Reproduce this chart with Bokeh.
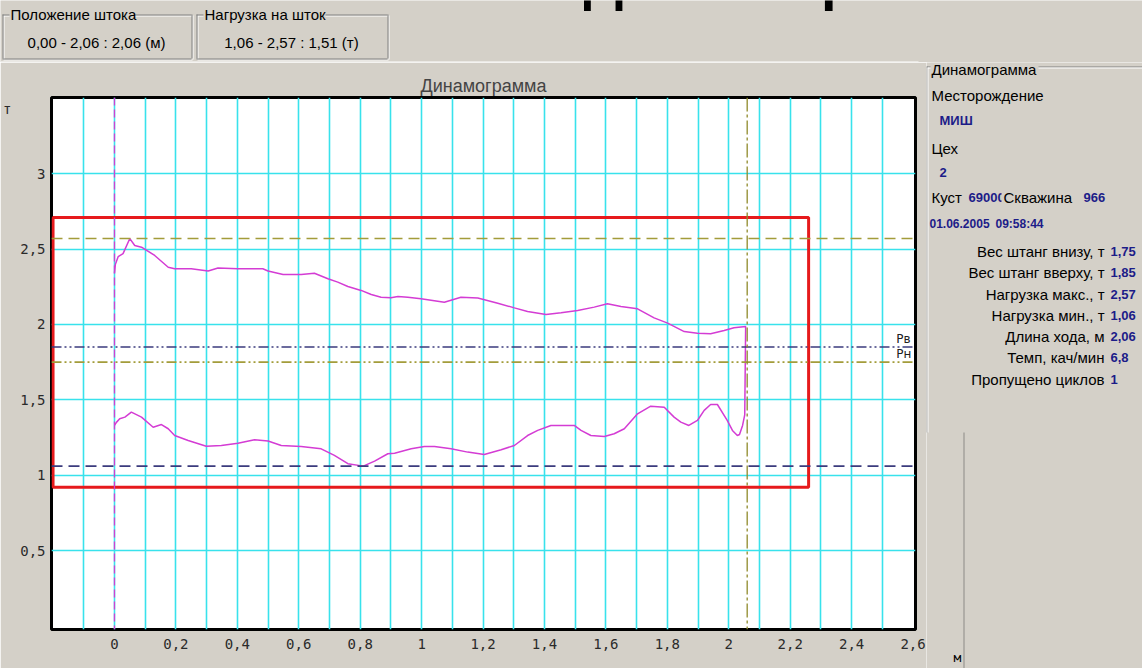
from bokeh.plotting import figure
from bokeh.layouts import column, row
from bokeh.models import Range1d, FixedTicker, Span, Label, LinearAxis
from bokeh.core.properties import value
from bokeh.embed import file_html
from bokeh.resources import INLINE

# ---- dynamogram data -------------------------------------------------------
# upstroke branch (position, m ; load, t)
upper_x = [0.000, 0.003, 0.012, 0.028, 0.050, 0.066, 0.088, 0.131, 0.175, 0.196,
           0.250, 0.305, 0.337, 0.402, 0.483, 0.500, 0.549, 0.608, 0.651, 0.695,
           0.727, 0.760, 0.803, 0.836, 0.868, 0.900, 0.923, 0.955, 0.998, 1.074,
           1.128, 1.183, 1.248, 1.302, 1.345, 1.405, 1.454, 1.508, 1.562, 1.605,
           1.649, 1.703, 1.757, 1.801, 1.855, 1.898, 1.941, 1.985, 2.017, 2.055]
upper_y = [2.34, 2.40, 2.45, 2.47, 2.57, 2.524, 2.513, 2.458, 2.38, 2.37,
           2.37, 2.355, 2.375, 2.37, 2.37, 2.355, 2.332, 2.332, 2.34, 2.303,
           2.281, 2.252, 2.226, 2.199, 2.181, 2.177, 2.186, 2.181, 2.17, 2.148,
           2.181, 2.175, 2.141, 2.11, 2.086, 2.066, 2.078, 2.093, 2.115, 2.137,
           2.119, 2.104, 2.044, 2.009, 1.953, 1.942, 1.938, 1.96, 1.978, 1.987]
# downstroke branch, traced back from the end of stroke to zero
lower_x = [2.055, 2.052, 2.045, 2.035, 2.028, 2.012, 1.995, 1.963, 1.941, 1.920,
           1.898, 1.870, 1.844, 1.822, 1.790, 1.746, 1.703, 1.660, 1.627, 1.595,
           1.551, 1.519, 1.497, 1.454, 1.421, 1.378, 1.345, 1.302, 1.259, 1.204,
           1.150, 1.096, 1.042, 1.009, 0.966, 0.912, 0.890, 0.847, 0.810, 0.760,
           0.716, 0.673, 0.608, 0.543, 0.500, 0.456, 0.402, 0.348, 0.299, 0.240,
           0.196, 0.175, 0.153, 0.126, 0.088, 0.055, 0.034, 0.017, 0.007, 0.000]
lower_y = [1.987, 1.40, 1.33, 1.27, 1.263, 1.297, 1.363, 1.469, 1.469, 1.43,
           1.363, 1.33, 1.352, 1.385, 1.451, 1.458, 1.407, 1.308, 1.275, 1.257,
           1.263, 1.297, 1.33, 1.33, 1.33, 1.297, 1.263, 1.197, 1.169, 1.137,
           1.153, 1.175, 1.19, 1.19, 1.175, 1.146, 1.142, 1.093, 1.06, 1.076,
           1.131, 1.175, 1.19, 1.197, 1.227, 1.235, 1.212, 1.197, 1.192, 1.23,
           1.263, 1.308, 1.336, 1.318, 1.385, 1.418, 1.385, 1.374, 1.352, 1.33]

stroke_min, stroke_max = 0.00, 2.06
load_min, load_max = 1.06, 2.57
rod_weight_down, rod_weight_up = 1.75, 1.85

x_ticks = [0, 0.2, 0.4, 0.6, 0.8, 1, 1.2, 1.4, 1.6, 1.8, 2, 2.2, 2.4, 2.6]
x_tick_labels = ["0", "0,2", "0,4", "0,6", "0,8", "1", "1,2", "1,4", "1,6",
                 "1,8", "2", "2,2", "2,4", "2,6"]
y_ticks = [0.5, 1, 1.5, 2, 2.5, 3]
y_tick_labels = ["0,5", "1", "1,5", "2", "2,5", "3"]

# well card
card_title = "Динамограмма"
field_name = "МИШ"
shop_no = "2"
bush_no = "69000"
well_no = "966"
date_str = "01.06.2005"
time_str = "09:58:44"
param_names = ["Вес штанг внизу, т", "Вес штанг вверху, т", "Нагрузка макс., т",
               "Нагрузка мин., т", "Длина хода, м", "Темп, кач/мин",
               "Пропущено циклов"]
param_values = ["1,75", "1,85", "2,57", "1,06", "2,06", "6,8", "1"]

# ---- page geometry ---------------------------------------------------------
W, H = 1142, 668
TOP_H = 62            # height of the readout strip
MAIN_W = 926          # width of the chart panel
BG = "#d4d0c8"
UI_FONT = "Liberation Sans"
MONO = "DejaVu Sans Mono"
NAVY = "#1c1c88"


def decor(w, h):
    """Pixel-addressed panel (y grows downward) for the window chrome."""
    f = figure(width=w, height=h, output_backend="svg", toolbar_location=None,
               x_range=Range1d(0, w), y_range=Range1d(h, 0),
               x_axis_location=None, y_axis_location=None, min_border=0,
               frame_align=False)
    f.grid.visible = False
    f.outline_line_color = None
    f.background_fill_color = BG
    f.border_fill_color = BG
    return f


def txt(f, x, y, s, size=15, color="black", bold=False, align="left",
        font=UI_FONT, baseline="middle"):
    f.text(x=[x], y=[y], text=[s], text_font=value(font), text_font_size=f"{size}px",
           text_color=color, text_align=align, text_baseline=baseline,
           text_font_style="bold" if bold else "normal")


def bar(f, x0, x1, y0, y1, color):
    f.quad(left=[x0], right=[x1], top=[y0], bottom=[y1], fill_color=color,
           line_color=None)


def group_box(f, x0, x1, y0, y1, title, title_w):
    for c, d in (("white", 1), ("#808080", 0)):
        bar(f, x0 + d, x1 + d, y0 + d, y0 + d + 1, c)
        bar(f, x0 + d, x1 + d, y1 + d, y1 + d + 1, c)
        bar(f, x0 + d, x0 + d + 1, y0 + d, y1 + d, c)
        bar(f, x1 + d, x1 + d + 1, y0 + d, y1 + d, c)
    bar(f, x0 + 7, x0 + 9 + title_w, y0 - 1, y0 + 3, BG)
    txt(f, x0 + 8, y0, title)


def fmt(v):
    return f"{v:.2f}".replace(".", ",")


# ---- readout strip -----------------------------------------------------------
top = decor(W, TOP_H)
txt(top, 583, 10, "Динамограмма", size=56, bold=True, baseline="bottom")
group_box(top, 2, 191, 14, 58, "Положение штока", 122)
txt(top, 96, 42, f"{fmt(stroke_min)} - {fmt(stroke_max)} : {fmt(stroke_max - stroke_min)} (м)",
    align="center")
group_box(top, 196, 387, 14, 58, "Нагрузка на шток", 120)
txt(top, 291, 42, f"{fmt(load_min)} - {fmt(load_max)} : {fmt(load_max - load_min)} (т)",
    align="center")
# highlight along the top edge of the chart panel
bar(top, 0, 918, TOP_H - 1, TOP_H, "white")

# ---- chart -------------------------------------------------------------------
FL, FR, FT, FB = 50, 915, 97 - TOP_H, 629 - TOP_H
p = figure(width=MAIN_W, height=H - TOP_H, output_backend="svg", toolbar_location=None,
           x_range=Range1d(-0.205, 2.608), y_range=Range1d(-0.024, 3.506),
           min_border_left=FL, min_border_right=MAIN_W - FR,
           min_border_top=FT, min_border_bottom=H - TOP_H - FB,
           frame_align=False)
p.title.text = card_title
p.title.align = "center"
p.title.text_font = UI_FONT
p.title.text_font_size = "18px"
p.title.text_font_style = "normal"
p.title.standoff = 3
p.border_fill_color = BG
p.background_fill_color = "white"
p.outline_line_color = "black"
p.outline_line_width = 3


def style_axis(ax):
    ax.axis_line_color = None
    ax.major_tick_line_color = None
    ax.minor_tick_line_color = None
    ax.major_tick_out = 0
    ax.minor_tick_out = 0
    ax.major_label_text_font = MONO
    ax.major_label_text_font_size = "14px"
    ax.major_label_text_color = "#2a2a2a"


style_axis(p.xaxis[0])
style_axis(p.yaxis[0])
p.xaxis.ticker = FixedTicker(ticks=x_ticks)
p.xaxis[0].major_label_overrides = dict(zip(x_ticks, x_tick_labels))
p.xaxis.major_label_standoff = 9
p.yaxis[0].ticker = FixedTicker(ticks=y_ticks)
p.yaxis[0].major_label_overrides = dict(zip(y_ticks, y_tick_labels))
p.yaxis[0].major_label_standoff = 6

# unit caption of the load axis, sitting above the top tick
unit_axis = LinearAxis(ticker=FixedTicker(ticks=[3.43]),
                       major_label_overrides={3.43: "т"})
style_axis(unit_axis)
unit_axis.major_label_standoff = 6
p.add_layout(unit_axis, "left")

grid_x = [round(-0.1 + 0.1 * i, 1) for i in range(27)]
p.xgrid.ticker = FixedTicker(ticks=grid_x)
p.ygrid.ticker = FixedTicker(ticks=y_ticks)
for g in (p.xgrid[0], p.ygrid[0]):
    g.grid_line_color = "#38e2ec"
    g.grid_line_width = 1.6

# red envelope frame around the card
p.quad(left=[stroke_min - 0.2], right=[stroke_max + 0.2],
       bottom=[load_min - 0.14], top=[load_max + 0.14],
       fill_color=None, line_color="#e61a1c", line_width=3)

# reference levels
p.add_layout(Span(location=load_max, dimension="width", line_color="#a39c3a",
                  line_width=1.6, line_dash="11 6"))
p.add_layout(Span(location=rod_weight_up, dimension="width", line_color="#3b3b7d",
                  line_width=1.6, line_dash="10 3 2 3 2 3"))
p.add_layout(Span(location=rod_weight_down, dimension="width", line_color="#a39c3a",
                  line_width=1.6, line_dash="10 3 2 3 2 3"))
p.add_layout(Span(location=load_min, dimension="width", line_color="#3b3b7d",
                  line_width=1.6, line_dash="11 6"))
p.add_layout(Span(location=stroke_min, dimension="height", line_color="#d040d0",
                  line_width=1.3, line_dash="8 4"))
p.add_layout(Span(location=stroke_max, dimension="height", line_color="#8f8a2a",
                  line_width=1.3, line_dash="14 3 3 3"))

for t, lvl in (("Pв", rod_weight_up), ("Pн", rod_weight_down)):
    p.add_layout(Label(x=2.545, y=lvl + 0.01, text=t, text_font="DejaVu Sans",
                       text_font_size="12px", text_color="#202020",
                       text_baseline="bottom"))

# the card itself
card_x = upper_x + lower_x
card_y = upper_y + lower_y
p.line(card_x, card_y, line_color="#d43cd4", line_width=1.5)

# ---- well card panel ------------------------------------------------------------
side = decor(W - MAIN_W, H - TOP_H)
SX, SY = MAIN_W, TOP_H


def stxt(x, y, s, **kw):
    txt(side, x - SX, y - SY, s, **kw)


bar(side, 0, W - SX, 66 - SY, 67 - SY, "#808080")
bar(side, 1, W - SX, 67 - SY, 68 - SY, "white")
bar(side, 0, 1, 66 - SY, 432 - SY, "#808080")
bar(side, 1, 2, 67 - SY, 432 - SY, "white")
# splitter edge of the chart panel below the card
bar(side, 963 - SX, 964 - SX, 432 - SY, H - SY, "#8c8a86")
bar(side, 4, 112, 0, 70 - SY, BG)
stxt(931, 69, card_title)
stxt(931, 95, "Месторождение")
stxt(939, 120, field_name, size=13, color=NAVY, bold=True)
stxt(931, 148, "Цех")
stxt(939, 172, shop_no, size=13, color=NAVY, bold=True)
stxt(931, 197, "Куст")
stxt(968, 197, bush_no, size=13, color=NAVY, bold=True)
bar(side, 1001 - SX, 1080 - SX, 188 - SY, 206 - SY, BG)
stxt(1003, 197, "Скважина")
stxt(1083, 197, well_no, size=13, color=NAVY, bold=True)
stxt(929, 223, date_str, size=12, color=NAVY, bold=True)
stxt(995, 223, time_str, size=12, color=NAVY, bold=True)

row_y = [251, 272, 294, 315, 336, 357, 379]
for name, val, yy in zip(param_names, param_values, row_y):
    stxt(1104, yy, name, align="right")
    stxt(1110, yy, val, size=13, color=NAVY, bold=True)

stxt(957, 657, "м", size=13, font=MONO, align="center")

page = column(top, row(p, side, spacing=0), spacing=0)
open("out.html", "w").write(file_html(page, INLINE))
